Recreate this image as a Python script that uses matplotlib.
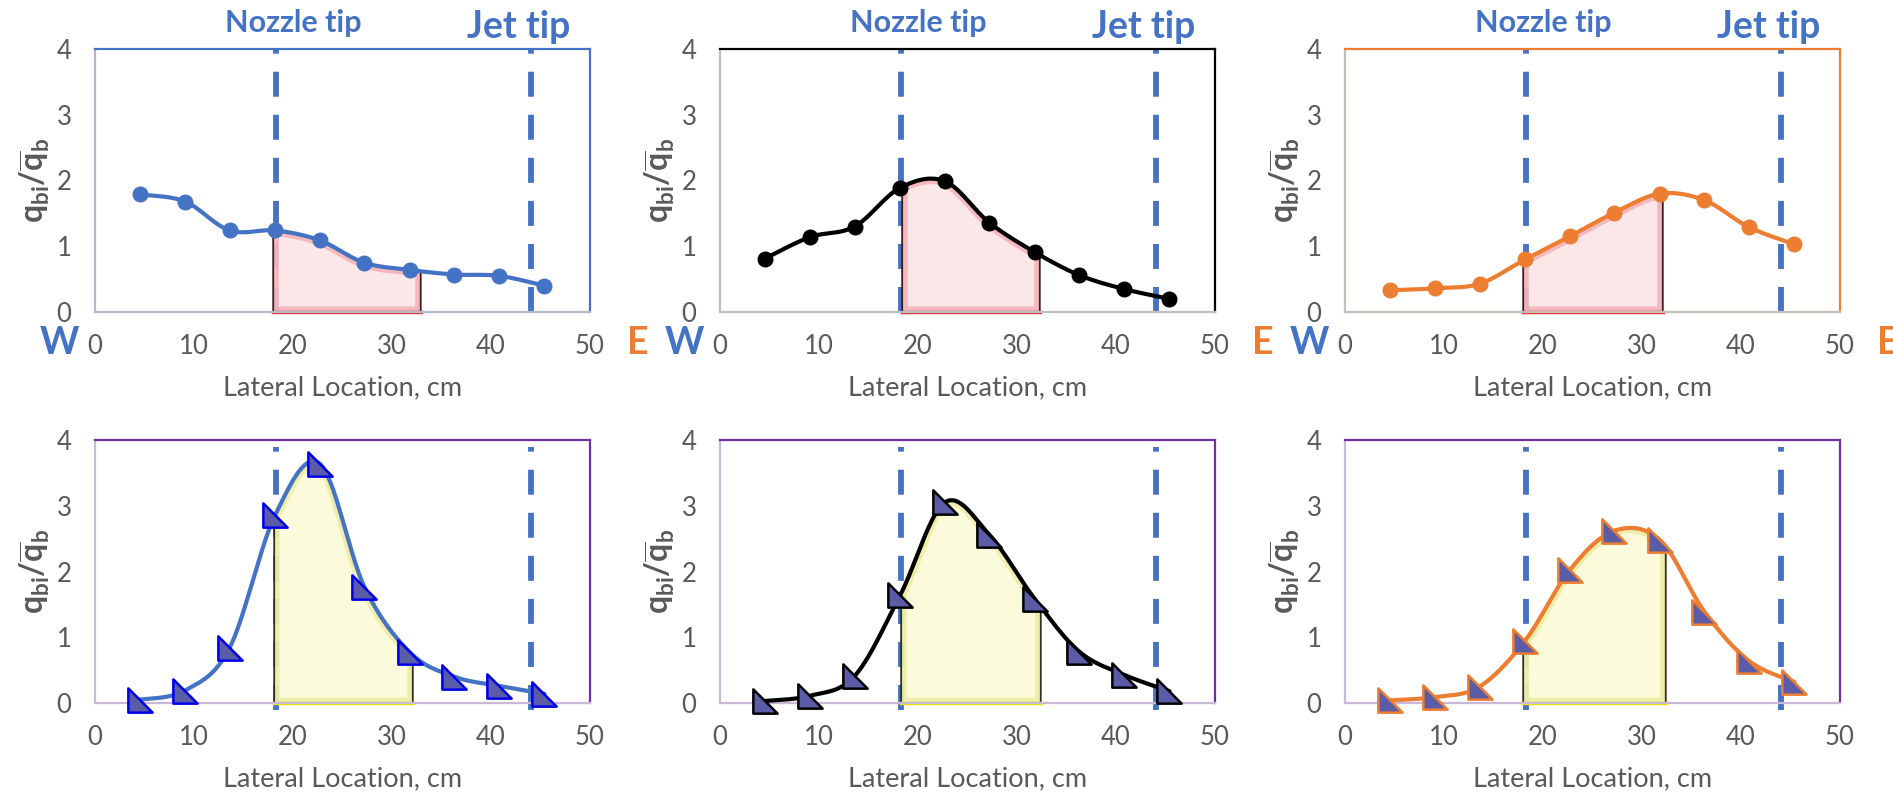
import numpy as np
import matplotlib
matplotlib.use("Agg")
import matplotlib.pyplot as plt
from matplotlib.patches import Polygon
from matplotlib.path import Path
from matplotlib.transforms import blended_transform_factory

plt.rcParams['font.family'] = ['Lato', 'DejaVu Sans']
plt.rcParams['mathtext.fontset'] = 'custom'
plt.rcParams['mathtext.rm'] = 'Lato'
plt.rcParams['mathtext.it'] = 'Lato'
plt.rcParams['mathtext.bf'] = 'Lato:bold'
plt.rcParams['lines.scale_dashes'] = False

# ---------------- data ----------------
x_loc = [4.5, 9.1, 13.6, 18.2, 22.7, 27.2, 31.8, 36.3, 40.8, 45.4]

top_left = [1.79, 1.68, 1.24, 1.24, 1.09, 0.75, 0.64, 0.57, 0.55, 0.40]
top_mid = [0.81, 1.14, 1.30, 1.89, 1.99, 1.36, 0.91, 0.56, 0.35, 0.20]
top_right = [0.33, 0.36, 0.43, 0.80, 1.15, 1.51, 1.80, 1.70, 1.29, 1.03]

bot_left = [0.05, 0.19, 0.84, 2.86, 3.64, 1.77, 0.77, 0.40, 0.26, 0.14]
bot_mid = [0.03, 0.11, 0.41, 1.64, 3.05, 2.56, 1.58, 0.78, 0.43, 0.18]
bot_right = [0.04, 0.09, 0.25, 0.95, 2.02, 2.62, 2.48, 1.39, 0.64, 0.32]

# shaded ranges (start, end) per panel
shade_top = [(18.0, 32.9), (18.4, 32.3), (18.0, 32.1)]
shade_bot = [(18.1, 32.1), (18.3, 32.4), (18.0, 32.4)]

nozzle_tip = 18.3
jet_tip = 44.0

x_ticks = [0, 10, 20, 30, 40, 50]
y_ticks = [0, 1, 2, 3, 4]
x_label = "Lateral Location, cm"
y_label = r'$\mathbf{q_{bi}/\overline{q}_{b}}$'

BLUE = '#4472c4'
ORANGE = '#ed7d31'
PURPLE = '#7030a0'
GRAY = '#595959'
TRI_FACE = '#5a5ca8'


def smooth(x, y, n=40):
    pts = np.column_stack([x, y]).astype(float)
    P = np.vstack([pts[0], pts, pts[-1]])
    out = []
    t = np.linspace(0, 1, n, endpoint=False)[:, None]
    for i in range(1, len(P) - 2):
        p0, p1, p2, p3 = P[i - 1], P[i], P[i + 1], P[i + 2]
        c = 0.5 * ((2 * p1) + (-p0 + p2) * t + (2 * p0 - 5 * p1 + 4 * p2 - p3) * t ** 2
                   + (-p0 + 3 * p1 - 3 * p2 + p3) * t ** 3)
        out.append(c)
    out.append(pts[-1:])
    c = np.vstack(out)
    return c[:, 0], c[:, 1]


tri_marker = Path([(-1, -1), (1, -1), (-1, 1), (-1, -1)],
                  [Path.MOVETO, Path.LINETO, Path.LINETO, Path.CLOSEPOLY])

W, H = 1893, 798
fig = plt.figure(figsize=(W / 100, H / 100), dpi=100)

lefts = [95, 720, 1345]
pw = 495
rows = [(49, 312), (440, 703)]

top_series = [(top_left, BLUE, BLUE), (top_mid, 'black', 'black'), (top_right, ORANGE, ORANGE)]
bot_series = [(bot_left, BLUE, '#0000ee'), (bot_mid, 'black', 'black'), (bot_right, ORANGE, ORANGE)]
top_spines = [(BLUE, '#b4b9c8'), ('black', '#bfbfbf'), (ORANGE, '#c8bfb8')]


def make_axes(lpx, row):
    y0, y1 = row
    return fig.add_axes([lpx / W, 1 - y1 / H, pw / W, (y1 - y0) / H])


def style(ax, outer, inner):
    ax.set_xlim(0, 50)
    ax.set_ylim(0, 4)
    ax.set_xticks(x_ticks)
    ax.set_yticks(y_ticks)
    ax.tick_params(length=0, labelsize=18.5, labelcolor=GRAY)
    ax.tick_params(axis='x', pad=16)
    ax.tick_params(axis='y', pad=17)
    for s in ['top', 'right']:
        ax.spines[s].set_color(outer)
        ax.spines[s].set_linewidth(1.6)
    for s in ['left', 'bottom']:
        ax.spines[s].set_color(inner)
        ax.spines[s].set_linewidth(1.6)
    ax.set_xlabel(x_label, fontsize=19.5, color=GRAY)
    ax.xaxis.label.set_va('center')
    ax.xaxis.set_label_coords(0.5, -0.29)
    ax.set_ylabel(y_label, fontsize=23, color=GRAY)
    ax.yaxis.label.set_va('center')
    ax.yaxis.set_label_coords(-0.122, 0.5)


def shade(ax, cx, cy, xa, xb, face, edge, inner, bottom_col):
    xs = np.linspace(xa, xb, 200)
    ys = np.interp(xs, cx, cy)
    verts = [(xa, 0)] + list(zip(xs, ys)) + [(xb, 0)]
    poly = Polygon(verts, closed=True, facecolor=face, edgecolor='none', alpha=0.88, zorder=2)
    ax.add_patch(poly)
    bevel = Polygon(verts, closed=True, facecolor='none', edgecolor=inner, lw=8, alpha=0.6, zorder=2.1)
    ax.add_patch(bevel)
    bevel.set_clip_path(poly)
    ax.plot([xa] + list(xs) + [xb], [0] + list(ys) + [0], color=edge, lw=1.3, zorder=2.2)
    ax.plot([xa, xb], [0, 0], color=bottom_col, lw=2.5, zorder=2.3, clip_on=False)


def vlines(ax, ymin, ymax):
    for xv in (nozzle_tip, jet_tip):
        ax.axvline(xv, ymin=ymin, ymax=ymax, color=BLUE, lw=4.2, dashes=(18, 13),
                   zorder=1, clip_on=False)


for i in range(3):
    # top row
    ax = make_axes(lefts[i], rows[0])
    ys, lc, _ = top_series[i]
    style(ax, *top_spines[i])
    vlines(ax, 0, 1)
    cx, cy = smooth(x_loc, ys)
    shade(ax, cx, cy, *shade_top[i], face='#fbe3e5', edge='#3c1c24', inner='#f09aa2', bottom_col='#e8303a')
    ax.plot(cx, cy, color=lc, lw=3, zorder=3, solid_capstyle='round')
    ax.plot(x_loc, ys, 'o', color=lc, ms=10.5, zorder=4)
    tr = blended_transform_factory(ax.transData, ax.transAxes)
    ax.text(20.0, 1.10, "Nozzle tip", transform=tr, ha='center', va='center',
            fontsize=22, fontweight='bold', color=BLUE)
    ax.text(42.8, 1.085, "Jet tip", transform=tr, ha='center', va='center',
            fontsize=27, fontweight='bold', color=BLUE)
    ax.text(-3.6, -0.118, "W", transform=tr, ha='center', va='center',
            fontsize=27, fontweight='bold', color=BLUE, clip_on=False)
    ax.text(54.8, -0.118, "E", transform=tr, ha='center', va='center',
            fontsize=27, fontweight='bold', color=ORANGE, clip_on=False)

    # bottom row
    ax = make_axes(lefts[i], rows[1])
    ys, lc, mec = bot_series[i]
    style(ax, PURPLE, '#c9b8d6')
    vlines(ax, -0.027, 0.973)
    cx, cy = smooth(x_loc, ys)
    shade(ax, cx, cy, *shade_bot[i], face='#fbfbd8', edge='#2f2f24', inner='#e6e68a', bottom_col='#f2e600')
    ax.plot(cx, cy, color=lc, lw=3, zorder=3, solid_capstyle='round')
    ax.plot(x_loc, ys, linestyle='none', marker=tri_marker, ms=17.5, markerfacecolor=TRI_FACE,
            markeredgecolor=mec, markeredgewidth=1.8, zorder=4, clip_on=False)

fig.savefig("out.png", dpi=100)
